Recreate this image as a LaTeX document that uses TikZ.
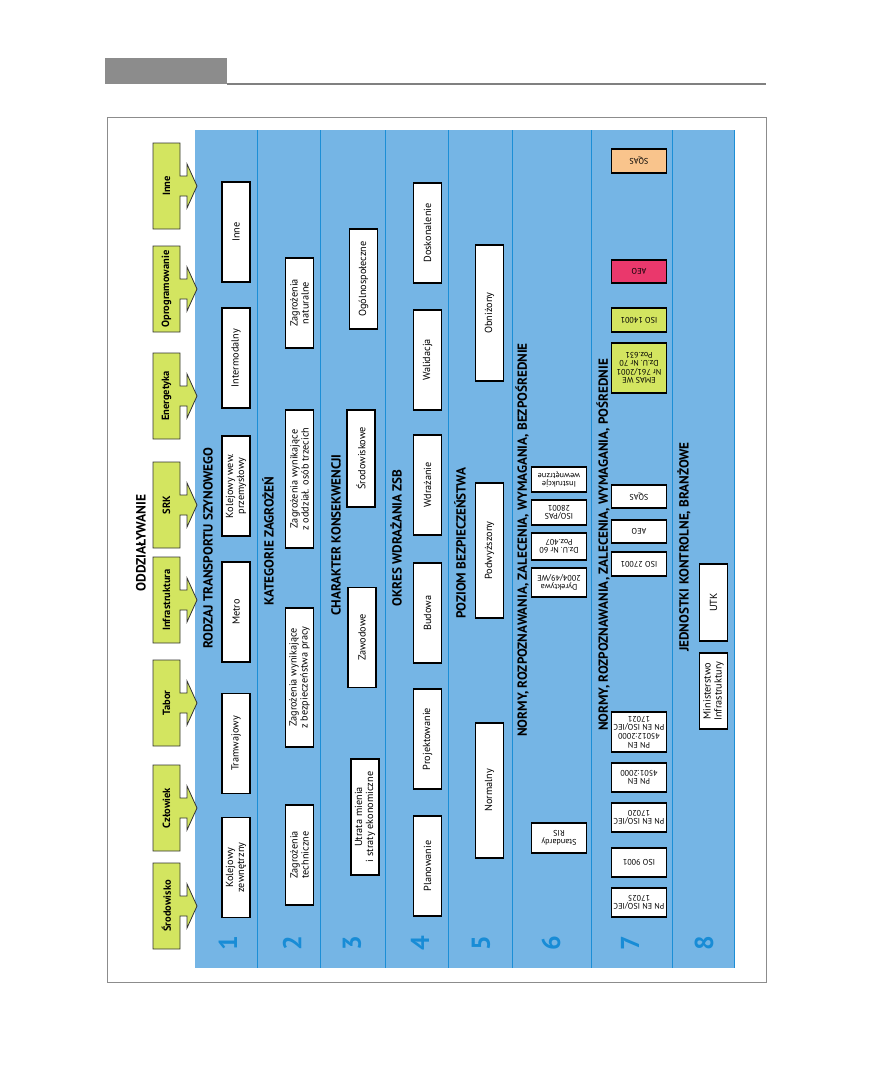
\documentclass[tikz,border=0pt]{standalone}
\usepackage{fontspec}
\setmainfont{PT Sans}
\definecolor{bandblue}{RGB}{117,181,229}
\definecolor{lineblue}{RGB}{28,142,214}
\definecolor{numblue}{RGB}{24,140,214}
\definecolor{impgreen}{RGB}{211,229,96}
\definecolor{aeored}{RGB}{234,56,108}
\definecolor{sqasorange}{RGB}{249,196,140}
\tikzset{
  pics/impact/.style={code={
    \filldraw[fill=impgreen,draw=black!80,line width=0.8bp]
      (-13.5,-43) -- (13.5,-43) -- (13.5,-10) -- (20.5,-10) -- (20.5,-22)
      -- (30.5,0) -- (20.5,22) -- (20.5,10) -- (13.5,10) -- (13.5,43)
      -- (-13.5,43) -- cycle;
    \node[rotate=90,font=\bfseries\fontsize{10.5}{11}\selectfont] (-lab) {#1};
  }}
}
\begin{document}
\begin{tikzpicture}[x=1bp,y=-1bp,
  box/.style={draw,line width=1.1bp,fill=white,rotate=90,inner sep=1bp,
    align=center,minimum height=28bp,minimum width=#1,
    font=\fontsize{10.3}{11}\selectfont},
  box/.default=100bp,
  stdbox/.style={draw,line width=1.1bp,fill=#1,rotate=180,inner sep=0.5bp,
    align=center,minimum width=55bp,font=\fontsize{8.2}{8.6}\selectfont},
  stdbox/.default=white,
  head/.style={rotate=90,inner sep=0pt,font=\bfseries\fontsize{13.2}{13}\selectfont},
  num/.style={rotate=90,inner sep=0pt,text=numblue,font=\bfseries\fontsize{26}{26}\selectfont},
  sep/.style={draw=lineblue,line width=1bp}]
  \useasboundingbox (0,0) rectangle (872,1092);
  % page header
  \fill[black!45] (105,58) rectangle (227,84);
  \draw[black!50,line width=1.2bp] (227,84) -- (766,84);
  \draw[black!45,line width=0.8bp] (107,117) rectangle (766,982);
  % bands
  \fill[bandblue] (195,130) rectangle (734,968);
  \foreach \x in {257,320,385,448,512,591,672,734}
    \draw[sep] (\x,130) -- (\x,968);
  \node[rotate=90,font=\bfseries\fontsize{13.5}{14}\selectfont] (title) at (141,543) {ODDZIAŁYWANIE};
  % impact arrows
  \pic (i1) at (166.5,906) {impact=Środowisko};
  \pic (i2) at (166.5,808) {impact=Człowiek};
  \pic (i3) at (166.5,703) {impact=Tabor};
  \pic (i4) at (166.5,600) {impact=Infrastruktura};
  \pic (i5) at (166.5,505) {impact=SRK};
  \pic (i6) at (166.5,396) {impact=Energetyka};
  \pic (i7) at (166.5,289) {impact=Oprogramowanie};
  \pic (i8) at (166.5,186) {impact=Inne};
  % row numbers
  \node[num] (n1) at (228,943) {1};
  \node[num] (n2) at (292,943) {2};
  \node[num] (n3) at (352,943) {3};
  \node[num] (n4) at (420,943) {4};
  \node[num] (n5) at (481,943) {5};
  \node[num] (n6) at (551,943) {6};
  \node[num] (n7) at (630,943) {7};
  \node[num] (n8) at (704,943) {8};
  % row headings
  \node[head] (h1) at (208,548) {RODZAJ TRANSPORTU SZYNOWEGO};
  \node[head] (h2) at (268,541) {KATEGORIE ZAGROŻEŃ};
  \node[head] (h3) at (336,535) {CHARAKTER KONSEKWENCJI};
  \node[head] (h4) at (396,538) {OKRES WDRAŻANIA ZSB};
  \node[head] (h5) at (460,543) {POZIOM BEZPIECZEŃSTWA};
  \node[head] (h6) at (522,540) {NORMY, ROZPOZNAWANIA, ZALECENIA, WYMAGANIA, BEZPOŚREDNIE};
  \node[head] (h7) at (603,545) {NORMY, ROZPOZNAWANIA, ZALECENIA, WYMAGANIA, POŚREDNIE};
  \node[head] (h8) at (684,547) {JEDNOSTKI KONTROLNE, BRANŻOWE};
  % 1
  \node[box] (kz) at (236,867.5) {Kolejowy\\zewnętrzny};
  \node[box] (tr) at (236,743.5) {Tramwajowy};
  \node[box] (me) at (236,612) {Metro};
  \node[box] (kw) at (236,486) {Kolejowy wew.\\przemysłowy};
  \node[box] (im) at (236,358) {Intermodalny};
  \node[box] (in) at (236,232) {Inne};
  % 2
  \node[box] (zt) at (299.5,855) {Zagrożenia\\techniczne};
  \node[box=139bp] (zb) at (299.5,677.5) {Zagrożenia wynikające\\z bezpieczeństwa pracy};
  \node[box=138bp] (zo) at (299.5,479) {Zagrożenia wynikające\\z oddział. osób trzecich};
  \node[box=90bp] (zn) at (299.5,303) {Zagrożenia\\naturalne};
  % 3
  \node[box=116bp] (ut) at (365,817) {Utrata mienia\\i straty ekonomiczne};
  \node[box] (za) at (362,637.5) {Zawodowe};
  \node[box=97bp] (sr) at (361,458.5) {Środowiskowe};
  \node[box] (og) at (363.5,279) {Ogólnospołeczne};
  % 4
  \node[box] (pl) at (427.5,866) {Planowanie};
  \node[box] (pr) at (427.5,739) {Projektowanie};
  \node[box] (bu) at (427.5,613) {Budowa};
  \node[box] (wd) at (427.5,485) {Wdrażanie};
  \node[box] (wa) at (427.5,360) {Walidacja};
  \node[box] (do) at (427.5,233) {Doskonalenie};
  % 5
  \node[box=135bp] (no) at (489.5,790.5) {Normalny};
  \node[box=135bp] (po) at (489.5,550.5) {Podwyższony};
  \node[box=136bp] (ob) at (489.5,313) {Obniżony};
  % 6
  \node[stdbox,minimum height=30bp] (ris) at (559,838) {Standardy\\RIS};
  \node[stdbox,minimum height=29bp] (dyr) at (559,582.5) {Dyrektywa\\2004/49/WE};
  \node[stdbox,minimum height=27bp] (dzu) at (559,546.5) {Dz.U. Nr 60\\Poz.407};
  \node[stdbox,minimum height=25bp] (pas) at (559,512.5) {ISO/PAS\\28001};
  \node[stdbox,minimum height=25bp] (ins) at (559,479.5) {Instrukcje\\wewnętrzne};
  % 7
  \node[stdbox,minimum height=29bp] (e25) at (639,902.5) {PN EN ISO/IEC\\17025};
  \node[stdbox,minimum height=29bp] (i9k) at (639,862.5) {ISO 9001};
  \node[stdbox,minimum height=29bp] (e20) at (639,817.5) {PN EN ISO/IEC\\17020};
  \node[stdbox,minimum height=29bp] (e11) at (639,777.5) {PN EN\\4501:2000};
  \node[stdbox,minimum height=40bp] (e12) at (639,732) {PN EN\\45012:2000\\PN EN ISO/IEC\\17021};
  \node[stdbox,minimum height=24bp] (i27) at (639,564) {ISO 27001};
  \node[stdbox,minimum height=23bp] (aeo) at (639,531.5) {AEO};
  \node[stdbox,minimum height=23bp] (sqa) at (639,496.5) {SQAS};
  \node[stdbox=impgreen,minimum height=50bp] (ema) at (639,368) {EMAS WE\\Nr 761/2001\\Dz.U. Nr 70\\Poz.631};
  \node[stdbox=impgreen,minimum height=24bp] (i14) at (639,320) {ISO 14001};
  \node[stdbox=aeored,minimum height=23bp] (aeo2) at (639,271.5) {AEO};
  \node[stdbox=sqasorange,minimum height=24bp] (sqa2) at (639,161) {SQAS};
  % 8
  \node[box=76bp] (mi) at (713.5,691) {Ministerstwo\\Infrastruktury};
  \node[box=77bp] (utk) at (713.5,602.5) {UTK};
\end{tikzpicture}
\end{document}
